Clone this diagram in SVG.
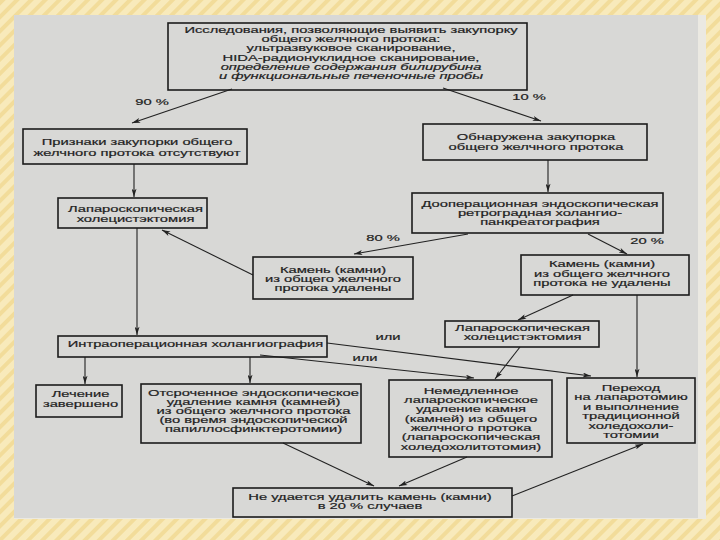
<svg xmlns="http://www.w3.org/2000/svg" width="720" height="540" viewBox="0 0 720 540">
<style>
.box{fill:none;stroke:#1c1c1c;stroke-width:1.6}
.t{font-family:"Liberation Sans",Arial,sans-serif;font-size:9.2px;fill:#1e1e1e;stroke:#1e1e1e;stroke-width:0.2;text-anchor:middle}
.i{font-style:italic}
.lbl{font-family:"Liberation Sans",Arial,sans-serif;font-size:9.2px;fill:#1e1e1e;stroke:#1e1e1e;stroke-width:0.2;text-anchor:middle}
.c{fill:none;stroke:#222;stroke-width:1.1;marker-end:url(#ah)}
</style>
<defs>
<marker id="ah" viewBox="0 0 10 6" refX="10" refY="3" markerWidth="9" markerHeight="5" markerUnits="userSpaceOnUse" orient="auto">
<path d="M0,0 L10,3 L0,6 L2.5,3 Z" fill="#222"/>
</marker>
<pattern id="stripes" width="10" height="10" patternUnits="userSpaceOnUse" patternTransform="rotate(45)">
<rect width="10" height="10" fill="#f8eabb"/>
<rect width="4" height="10" fill="#f2dc9a"/>
</pattern>
</defs>
<rect x="0" y="0" width="720" height="540" fill="url(#stripes)"/>
<rect x="14" y="15" width="692" height="504" fill="#ebe9e2"/>
<rect x="14" y="15" width="684" height="503" fill="#d8d8d6"/>

<g id="connectors">
<line class="c" x1="232" y1="89" x2="132" y2="123"/>
<line class="c" x1="443" y1="88" x2="541" y2="121"/>
<line class="c" x1="134" y1="164" x2="134" y2="197"/>
<line class="c" x1="548" y1="160" x2="548" y2="192"/>
<line class="c" x1="468" y1="234" x2="354" y2="254"/>
<line class="c" x1="588" y1="234" x2="627" y2="254"/>
<line class="c" x1="253" y1="275" x2="162" y2="230"/>
<line class="c" x1="137" y1="228" x2="137" y2="335"/>
<line class="c" x1="85" y1="357" x2="85" y2="384"/>
<line class="c" x1="250" y1="357" x2="250" y2="383"/>
<line class="c" x1="327" y1="343" x2="591" y2="376"/>
<line class="c" x1="260" y1="355" x2="474" y2="378"/>
<line class="c" x1="573" y1="295" x2="518" y2="320"/>
<line class="c" x1="637" y1="295" x2="637" y2="377"/>
<line class="c" x1="520" y1="347" x2="495" y2="379"/>
<line class="c" x1="283" y1="443" x2="374" y2="486"/>
<line class="c" x1="467" y1="457" x2="399" y2="486"/>
<line class="c" x1="512" y1="496" x2="643" y2="444"/>
<text class="lbl" transform="matrix(1.6 0 0 1 152 105)">90 %</text>
<text class="lbl" transform="matrix(1.6 0 0 1 529 100)">10 %</text>
<text class="lbl" transform="matrix(1.6 0 0 1 383 241)">80 %</text>
<text class="lbl" transform="matrix(1.6 0 0 1 647 244)">20 %</text>
<text class="lbl" transform="matrix(1.6 0 0 1 388 339.5)">или</text>
<text class="lbl" transform="matrix(1.6 0 0 1 365 361)">или</text>
</g>

<g id="n1">
<rect class="box" x="168" y="23" width="359" height="67"/>
<text class="t" transform="matrix(1.6 0 0 1 351 0)"><tspan x="0" y="33">Исследования, позволяющие выявить закупорку</tspan><tspan x="0" y="42.2">общего желчного протока:</tspan><tspan x="0" y="51.4">ультразвуковое сканирование,</tspan><tspan x="0" y="60.6">HIDA-радионуклидное сканирование,</tspan><tspan x="0" y="69.8" class="i">определение содержания билирубина</tspan><tspan x="0" y="79" class="i">и функциональные печеночные пробы</tspan></text>
</g>

<g id="n2">
<rect class="box" x="23" y="129" width="224" height="35"/>
<text class="t" transform="matrix(1.6 0 0 1 137 0)"><tspan x="0" y="145">Признаки закупорки общего</tspan><tspan x="0" y="156">желчного протока отсутствуют</tspan></text>
</g>

<g id="n3">
<rect class="box" x="58" y="198" width="149" height="30"/>
<text class="t" transform="matrix(1.6 0 0 1 135.5 0)"><tspan x="0" y="212.5">Лапароскопическая</tspan><tspan x="0" y="222.5">холецистэктомия</tspan></text>
</g>

<g id="n4">
<rect class="box" x="253" y="257" width="160" height="42"/>
<text class="t" transform="matrix(1.6 0 0 1 333 0)"><tspan x="0" y="273">Камень (камни)</tspan><tspan x="0" y="282">из общего желчного</tspan><tspan x="0" y="291">протока удалены</tspan></text>
</g>

<g id="n5">
<rect class="box" x="423" y="124" width="224" height="36"/>
<text class="t" transform="matrix(1.6 0 0 1 536 0)"><tspan x="0" y="140">Обнаружена закупорка</tspan><tspan x="0" y="150">общего желчного протока</tspan></text>
</g>

<g id="n6">
<rect class="box" x="412" y="193" width="251" height="40"/>
<text class="t" transform="matrix(1.6 0 0 1 540 0)"><tspan x="0" y="207.5">Дооперационная эндоскопическая</tspan><tspan x="0" y="216.5">ретроградная холангио-</tspan><tspan x="0" y="225.5">панкреатография</tspan></text>
</g>

<g id="n7">
<rect class="box" x="521" y="255" width="168" height="40"/>
<text class="t" transform="matrix(1.6 0 0 1 602 0)"><tspan x="0" y="267.5">Камень (камни)</tspan><tspan x="0" y="277">из общего желчного</tspan><tspan x="0" y="286.5">протока не удалены</tspan></text>
</g>

<g id="n8">
<rect class="box" x="445" y="321" width="154" height="26"/>
<text class="t" transform="matrix(1.6 0 0 1 522.5 0)"><tspan x="0" y="331.5">Лапароскопическая</tspan><tspan x="0" y="340.5">холецистэктомия</tspan></text>
</g>

<g id="n9">
<rect class="box" x="58" y="336" width="269" height="21"/>
<text class="t" transform="matrix(1.6 0 0 1 195.5 0)"><tspan x="0" y="347.5">Интраоперационная холангиография</tspan></text>
</g>

<g id="n10">
<rect class="box" x="36" y="385" width="86" height="32"/>
<text class="t" transform="matrix(1.6 0 0 1 80.5 0)"><tspan x="0" y="397.5">Лечение</tspan><tspan x="0" y="407.5">завершено</tspan></text>
</g>

<g id="n11">
<rect class="box" x="141" y="384" width="220" height="59"/>
<text class="t" transform="matrix(1.6 0 0 1 253.5 0)"><tspan x="0" y="396">Отсроченное эндоскопическое</tspan><tspan x="0" y="405">удаление камня (камней)</tspan><tspan x="0" y="414">из общего желчного протока</tspan><tspan x="0" y="423.5">(во время эндоскопической</tspan><tspan x="0" y="432.5">папиллосфинктеротомии)</tspan></text>
</g>

<g id="n12">
<rect class="box" x="389" y="380" width="163" height="77"/>
<text class="t" transform="matrix(1.6 0 0 1 471 0)"><tspan x="0" y="394">Немедленное</tspan><tspan x="0" y="403.5">лапароскопическое</tspan><tspan x="0" y="412.5">удаление камня</tspan><tspan x="0" y="422">(камней) из общего</tspan><tspan x="0" y="431">желчного протока</tspan><tspan x="0" y="440.5">(лапароскопическая</tspan><tspan x="0" y="450">холедохолитотомия)</tspan></text>
</g>

<g id="n13">
<rect class="box" x="567" y="378" width="128" height="65"/>
<text class="t" transform="matrix(1.6 0 0 1 631 0)"><tspan x="0" y="391.5">Переход</tspan><tspan x="0" y="400.5">на лапаротомию</tspan><tspan x="0" y="410">и выполнение</tspan><tspan x="0" y="419.5">традиционной</tspan><tspan x="0" y="429">холедохоли-</tspan><tspan x="0" y="438">тотомии</tspan></text>
</g>

<g id="n14">
<rect class="box" x="233" y="488" width="279" height="29"/>
<text class="t" transform="matrix(1.6 0 0 1 370 0)"><tspan x="0" y="500.5">Не удается удалить камень (камни)</tspan><tspan x="0" y="509.5">в 20 % случаев</tspan></text>
</g>
</svg>
